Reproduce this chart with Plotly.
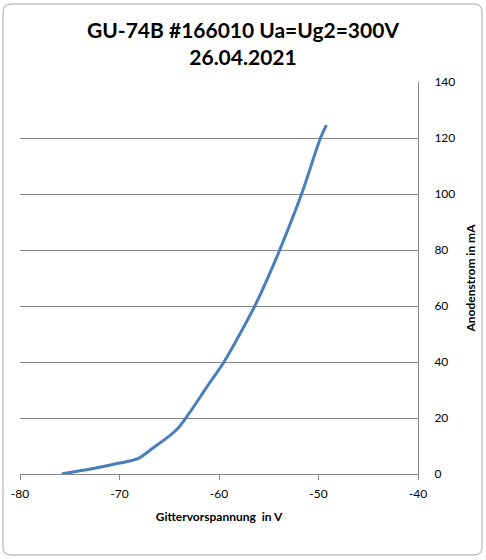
import plotly.graph_objects as go

ug = [-75.8, -72.0, -70.0, -68.1, -66.9, -64.3, -62.9, -61.2, -59.5, -57.9, -56.4, -55.15,
      -53.9, -51.7, -49.8, -49.2]
ia = [0.0, 2.4, 3.9, 5.6, 8.6, 15.7, 22.2, 31.2, 40.0, 50.0, 60.0, 69.6,
      80.0, 100.0, 120.0, 124.6]

x_ticks = [-80, -70, -60, -50, -40]
x_tick_labels = ["-80", "-70", "-60", "-50", "-40"]
y_ticks = [0, 20, 40, 60, 80, 100, 120, 140]

title_text = "GU-74B #166010 Ua=Ug2=300V<br>26.04.2021"
x_title = "Gittervorspannung&nbsp; in V"
y_title = "Anodenstrom in mA"

W, H = 486, 560
L, R, T, B = 20, 68, 82, 86
pw, ph = W - L - R, H - T - B


def px(x):
    return (x - L) / pw


def py(y):
    return (H - B - y) / ph


def rounded_rect(x0, y0, x1, y1, r):
    pts = [
        f"M {px(x0 + r)},{py(y0)}",
        f"L {px(x1 - r)},{py(y0)}",
        f"Q {px(x1)},{py(y0)} {px(x1)},{py(y0 + r)}",
        f"L {px(x1)},{py(y1 - r)}",
        f"Q {px(x1)},{py(y1)} {px(x1 - r)},{py(y1)}",
        f"L {px(x0 + r)},{py(y1)}",
        f"Q {px(x0)},{py(y1)} {px(x0)},{py(y1 - r)}",
        f"L {px(x0)},{py(y0 + r)}",
        f"Q {px(x0)},{py(y0)} {px(x0 + r)},{py(y0)}",
        "Z",
    ]
    return " ".join(pts)


fig = go.Figure()
fig.add_trace(go.Scatter(x=ug, y=ia, mode="lines",
                         line=dict(color="#4a7ebb", width=3, shape="spline", smoothing=1.0),
                         showlegend=False, hoverinfo="skip"))

font_fam = "Lato, Open Sans, sans-serif"
fig.update_layout(
    width=W, height=H,
    margin=dict(l=L, r=R, t=T, b=B, autoexpand=False),
    paper_bgcolor="white", plot_bgcolor="white",
    font=dict(family=font_fam, size=12, color="#000"),
    annotations=[dict(text="<b>" + title_text + "</b>", xref="paper", yref="paper",
                      x=px(243), y=py(43), xanchor="center", yanchor="middle", showarrow=False,
                      font=dict(size=21, family=font_fam, color="#000"))],
    xaxis=dict(range=[-80, -40], tickvals=x_ticks, ticktext=x_tick_labels,
               ticks="outside", ticklen=5, tickcolor="#868686",
               ticklabelstandoff=4,
               showline=True, linecolor="#868686", linewidth=1, showgrid=False, zeroline=False,
               tickfont=dict(size=12, family=font_fam),
               title=dict(text="<b>" + x_title + "</b>", font=dict(size=12, family=font_fam), standoff=12)),
    yaxis=dict(range=[0, 140], tickvals=y_ticks, side="right", ticks="", ticklabelstandoff=13,
               showline=True, linecolor="#868686", linewidth=1, showgrid=True, gridcolor="#868686", gridwidth=1,
               zeroline=False, tickfont=dict(size=12, family=font_fam),
               title=dict(text="<b>" + y_title + "</b>", font=dict(size=12, family=font_fam), standoff=12)),
    shapes=[dict(type="path", xref="paper", yref="paper", path=rounded_rect(3, 4, 482, 555, 8),
                 line=dict(color="#a6a6a6", width=1), layer="below")],
)

fig.write_html("out.html", config={"displayModeBar": False},
               post_script="document.body.style.margin='0';document.body.style.overflow='hidden';")
